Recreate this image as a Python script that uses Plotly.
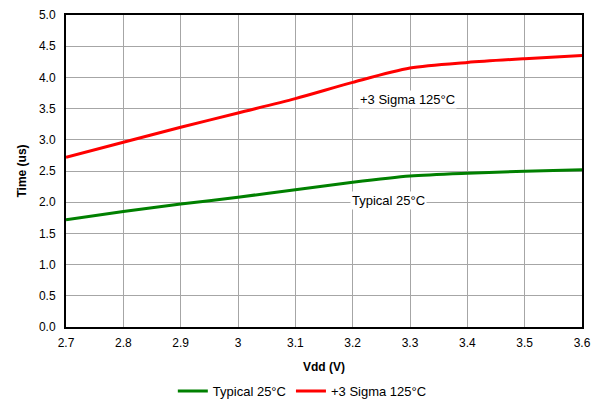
import plotly.graph_objects as go

vdd = [2.7, 2.8, 2.9, 3.0, 3.1, 3.2, 3.3, 3.4, 3.5, 3.6]
typical_25c = [1.72, 1.85, 1.97, 2.08, 2.20, 2.32, 2.42, 2.465, 2.495, 2.52]
sigma3_125c = [2.72, 2.96, 3.20, 3.43, 3.66, 3.92, 4.15, 4.24, 4.30, 4.35]
vdd_ticks = ["2.7", "2.8", "2.9", "3", "3.1", "3.2", "3.3", "3.4", "3.5", "3.6"]

FONT = "Liberation Sans, Arial, sans-serif"

fig = go.Figure()
fig.add_trace(go.Scatter(
    x=vdd, y=typical_25c, mode="lines", name="Typical 25°C",
    line=dict(color="#008000", width=3, shape="spline", smoothing=0.8),
))
fig.add_trace(go.Scatter(
    x=vdd, y=sigma3_125c, mode="lines", name="+3 Sigma 125°C",
    line=dict(color="#ff0000", width=3, shape="spline", smoothing=0.8),
))

fig.add_annotation(x=3.295, y=3.64, text="+3 Sigma 125°C", showarrow=False,
                   bgcolor="white", font=dict(size=13, color="black", family=FONT))
fig.add_annotation(x=3.262, y=2.02, text="Typical 25°C", showarrow=False,
                   bgcolor="white", font=dict(size=13, color="black", family=FONT))

# page body has an 8px margin, so the figure is sized to fit inside it
fig.update_layout(
    width=589, height=391,
    margin=dict(l=58, r=15, t=7, b=72, autoexpand=False),
    paper_bgcolor="white", plot_bgcolor="white",
    font=dict(family=FONT, size=12, color="black"),
    showlegend=True,
    legend=dict(orientation="h", x=0.458, xanchor="center", y=-0.205, yanchor="middle",
                font=dict(size=13)),
    xaxis=dict(
        range=[2.7, 3.6],
        tickvals=vdd,
        ticktext=vdd_ticks,
        showgrid=True, gridcolor="#a6a6a6", gridwidth=1,
        showline=True, linecolor="black", linewidth=2, mirror=True,
        zeroline=False, ticks="outside", ticklen=4, tickcolor="rgba(0,0,0,0)",
        automargin=False,
        title=dict(text="<b>Vdd (V)</b>", font=dict(size=12), standoff=13),
    ),
    yaxis=dict(
        range=[0, 5], dtick=0.5, tickformat=".1f",
        showgrid=True, gridcolor="#a6a6a6", gridwidth=1,
        showline=True, linecolor="black", linewidth=2, mirror=True,
        zeroline=False, ticks="outside", ticklen=6, tickcolor="rgba(0,0,0,0)",
        automargin=False,
        title=dict(text="<b>Time (us)</b>", font=dict(size=12), standoff=10),
    ),
)

fig.write_html("out.html")
